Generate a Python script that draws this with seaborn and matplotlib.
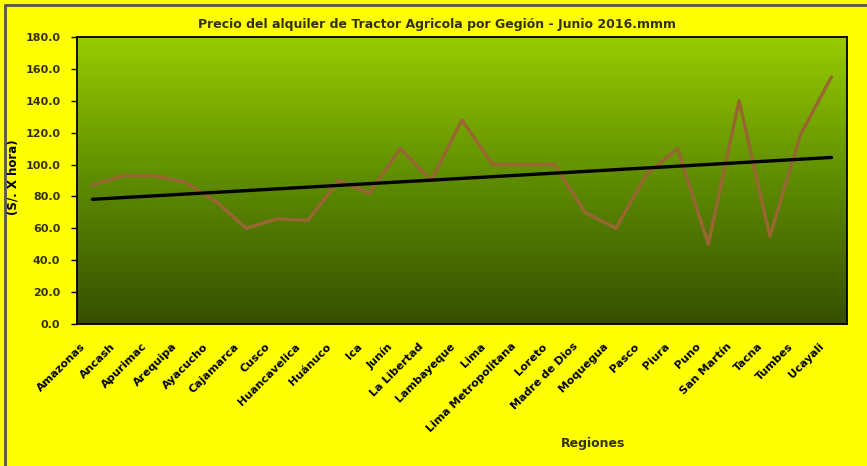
import numpy as np
import pandas as pd
import seaborn as sns
import matplotlib.pyplot as plt
import matplotlib.transforms as mtransforms
from matplotlib.lines import Line2D
from matplotlib.colors import LinearSegmentedColormap

# Datos
regiones = ["Amazonas", "Ancash", "Apurimac", "Arequipa", "Ayacucho", "Cajamarca",
            "Cusco", "Huancavelica", "Huánuco", "Ica", "Junín", "La Libertad",
            "Lambayeque", "Lima", "Lima Metropolitana", "Loreto", "Madre de Dios",
            "Moquegua", "Pasco", "Piura", "Puno", "San Martín", "Tacna", "Tumbes",
            "Ucayali"]
precios = [87, 93, 93, 89, 77, 60, 66, 65, 90, 82, 110, 90, 128, 100, 100, 100,
           70, 60, 94, 110, 50, 140, 55, 119, 155]
yticks = [0, 20, 40, 60, 80, 100, 120, 140, 160, 180]

df = pd.DataFrame({"pos": np.arange(len(regiones)), "region": regiones, "precio": precios})

sns.set_style("white")
plt.rcParams["font.family"] = ["DejaVu Sans"]

fig = plt.figure(figsize=(8.67, 4.66), dpi=100, facecolor="#FFFF00")
ax = fig.add_axes([0.0888, 0.3047, 0.888, 0.6159])

# fondo degradado verde
cmap = LinearSegmentedColormap.from_list("verde", ["#364F00", "#5E8C00", "#99CC00"])
grad = np.linspace(0, 1, 256).reshape(-1, 1)
ax.imshow(grad, cmap=cmap, aspect="auto", origin="lower",
          extent=[-0.5, len(regiones) - 0.5, 0, 180], zorder=0)

sns.lineplot(data=df, x="pos", y="precio", color="#996633", linewidth=2.4, ax=ax, zorder=3)
sns.regplot(data=df, x="pos", y="precio", scatter=False, ci=None, ax=ax,
            line_kws={"color": "black", "linewidth": 2.4, "zorder": 4})

ax.set_xlim(-0.5, len(regiones) - 0.5)
ax.set_ylim(0, 180)

# ticks en los limites de categoria, etiquetas al centro
ax.set_xticks(np.arange(len(regiones)))
ax.set_xticks(np.arange(len(regiones) + 1) - 0.5, minor=True)
ax.set_xticklabels(regiones, rotation=45, ha="right", va="center",
                   rotation_mode="anchor", fontsize=8, fontweight="bold", color="black")
ax.tick_params(axis="x", which="major", length=0, pad=15)
ax.tick_params(axis="x", which="minor", length=4, width=1, color="black", direction="out")
offset = mtransforms.ScaledTranslation(-0.09, 0, fig.dpi_scale_trans)
for lab in ax.get_xticklabels():
    lab.set_transform(lab.get_transform() + offset)

ax.set_yticks(yticks)
ax.set_yticklabels([f"{v:.1f}" for v in yticks], fontsize=8, fontweight="bold",
                   color="#333300")
ax.tick_params(axis="y", length=4, width=1, color="black", direction="out", left=True, pad=8)

for s in ax.spines.values():
    s.set_color("black")
    s.set_linewidth(1.3)
    s.set_visible(True)

ax.set_xlabel("Regiones", fontsize=9, fontweight="bold", color="#333300")
ax.xaxis.set_label_coords(0.67, -0.395)
ax.set_ylabel("(S/. X hora)", fontsize=8.5, fontweight="bold", color="black")
ax.yaxis.set_label_coords(-0.075, 0.51)

fig.text(0.504, 0.948, "Precio del alquiler de Tractor Agricola por Gegión - Junio 2016.mmm",
         ha="center", va="center", fontsize=9, fontweight="bold", color="#333300")

# borde gris de la figura (arriba e izquierda)
y_top = 1 - 4.5 / 466
x_left = 4.5 / 867
fig.add_artist(Line2D([x_left, 1.0], [y_top, y_top], transform=fig.transFigure,
                      color="#555555", linewidth=2))
fig.add_artist(Line2D([x_left, x_left], [0.0, y_top], transform=fig.transFigure,
                      color="#555555", linewidth=2))

fig.savefig("out.png", dpi=100, facecolor=fig.get_facecolor())
